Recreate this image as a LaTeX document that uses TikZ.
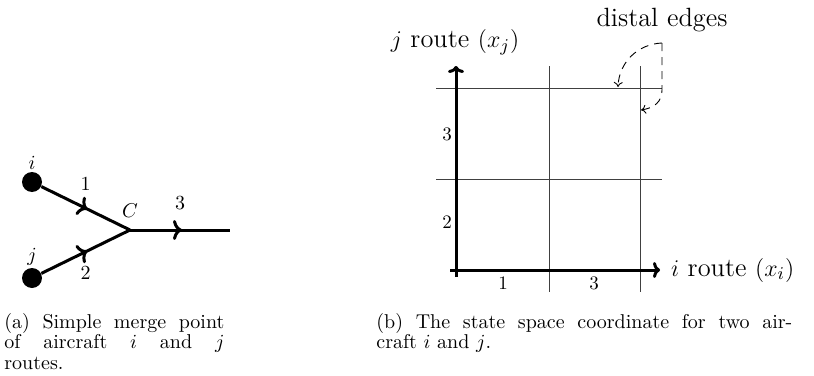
\documentclass[tikz,border=0pt]{standalone}
\usepackage{amsmath}
\usetikzlibrary{arrows.meta,decorations.markings,positioning}
\tikzset{
  acdot/.style={circle,fill=black,minimum size=10pt,inner sep=0pt},
  route/.style={line width=1.5pt},
  midarrow/.style={postaction={decorate},
    decoration={markings,mark=at position 0.52 with {\arrow{To[length=4.5pt,width=10pt]}}}},
  axisline/.style={-{To[length=3.5pt,width=8pt]},line width=1.5pt},
  gridline/.style={draw=black!75,line width=0.5pt},
  distal/.style={-{To[length=2.5pt,width=4.5pt]},dash pattern=on 4pt off 3pt,line width=0.45pt},
  biglab/.style={font=\fontsize{13.2}{15}\selectfont},
  ticklab/.style={font=\fontsize{9.5}{11}\selectfont},
  captext/.style={font=\fontsize{10}{10.25}\selectfont,anchor=north west,inner sep=0pt,align=left}
}
\begin{document}
\begin{tikzpicture}[x=0.5pt,y=-0.5pt]
  \useasboundingbox (0,0) rectangle (814,375);

  % (a) merge point
  \node[acdot,label={[label distance=-2.5pt]above:$i$}] (i) at (32,182) {};
  \node[acdot,label={[label distance=-2.5pt]above:$j$}] (j) at (32,278) {};
  \coordinate[label={[label distance=2.5pt]above:$C$}] (C) at (130,230);
  \coordinate (out) at (230,230);

  \draw[route,midarrow] (i) -- node[above=5pt] {1} (C);
  \draw[route,midarrow] (j) -- node[below=3pt] {2} (C);
  \draw[route,midarrow] (C) -- node[above=6pt] {3} (out);

  % (b) state space grid
  \foreach \gx in {549,640}{\draw[gridline] (\gx,66) -- (\gx,292);}
  \foreach \gy in {88,179}{\draw[gridline] (436,\gy) -- (662,\gy);}

  \coordinate (ybot) at (456,277);
  \coordinate (ytop) at (456,66);
  \coordinate (xleft) at (450,270);
  \coordinate (xright) at (660,270);
  \draw[axisline] (ybot) -- (ytop);
  \draw[axisline] (xleft) -- (xright);

  \node[biglab] (jlab) at (455,42) {$j$ route $(x_j)$};
  \node[biglab,right=2pt of xright] (ilab) {$i$ route $(x_i)$};

  \node[ticklab] (tj3) at (447,134) {3};
  \node[ticklab] (tj2) at (447,222) {2};
  \node[ticklab] (ti1) at (503,283) {1};
  \node[ticklab] (ti3) at (594,283) {3};

  % distal edges
  \node[biglab] (dlab) at (662,20) {distal edges};
  \coordinate (dsrc) at (662,43);
  \coordinate (dtop) at (618,87);
  \coordinate (dside) at (641,110);
  \draw[distal] (dsrc) .. controls (638,44) and (619,62) .. (dtop);
  \draw[distal] (dsrc) -- (662,90) .. controls (662,102) and (654,108) .. (dside);

  % captions
  \node[captext] (capa) at (4,313)
    {\makebox[110pt][s]{(a) Simple merge point}\\
     \makebox[110pt][s]{of aircraft $i$ and $j$}\\
     routes.};
  \node[captext] (capb) at (376,313)
    {\makebox[208pt][s]{(b) The state space coordinate for two air-}\\
     craft $i$ and $j$.};
\end{tikzpicture}
\end{document}
